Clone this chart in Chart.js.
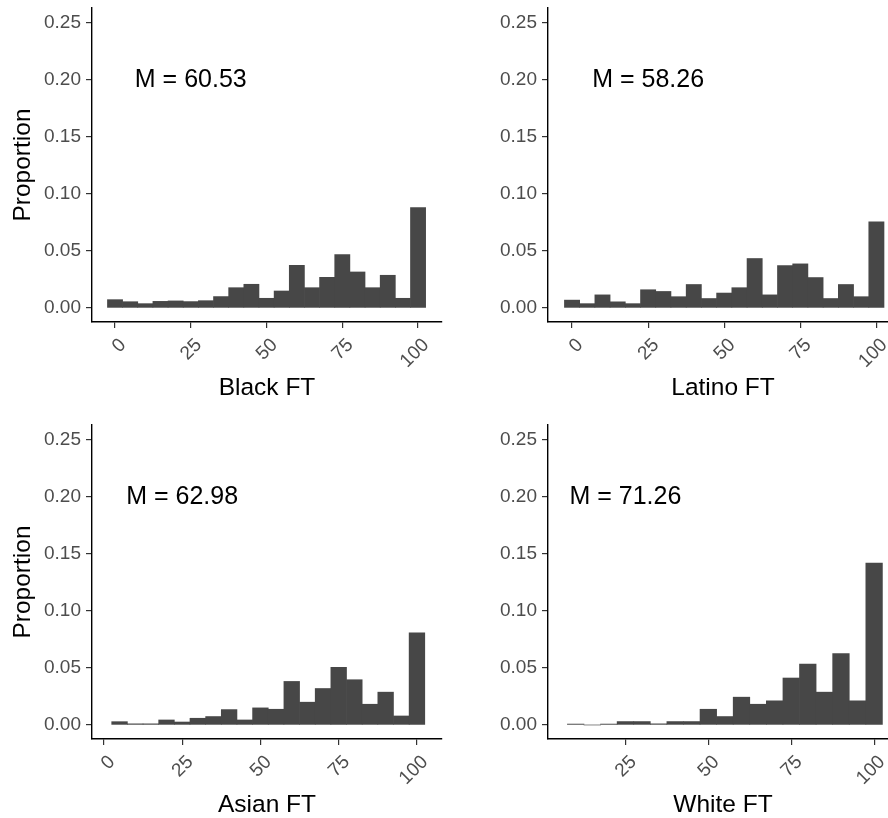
<!DOCTYPE html>
<html>
<head>
<meta charset="utf-8">
<script src="https://cdn.jsdelivr.net/npm/chart.js@4.4.1/dist/chart.umd.min.js"></script>
<style>
  html, body { margin: 0; padding: 0; background: #fff; overflow: hidden; }
  body { width: 888px; height: 818px; position: relative; }
  .panel { position: absolute; width: 444px; height: 410px; }
  .panel canvas { display: block; }
</style>
</head>
<body>
<div class="panel" style="left:0;top:0"><canvas id="blackChart" width="444" height="410"></canvas></div>
<div class="panel" style="left:456px;top:0"><canvas id="latinoChart" width="444" height="410"></canvas></div>
<div class="panel" style="left:0;top:417px"><canvas id="asianChart" width="444" height="410"></canvas></div>
<div class="panel" style="left:456px;top:417px"><canvas id="whiteChart" width="444" height="410"></canvas></div>
<script>
// bin centres and proportions
const binsBlack = [0, 5, 10, 15, 20, 25, 30, 35, 40, 45, 50, 55, 60, 65, 70, 75, 80, 85, 90, 95, 100];
const propBlack = [0.0073, 0.0055, 0.0038, 0.0058, 0.0062, 0.0056, 0.0064, 0.0100, 0.0178, 0.0208, 0.0085, 0.0149, 0.0374, 0.0178, 0.0269, 0.0468, 0.0316, 0.0178, 0.0287, 0.0085, 0.0880];

const binsLatino = [0, 5, 10, 15, 20, 25, 30, 35, 40, 45, 50, 55, 60, 65, 70, 75, 80, 85, 90, 95, 100];
const propLatino = [0.0069, 0.0038, 0.0115, 0.0054, 0.0038, 0.0160, 0.0145, 0.0099, 0.0206, 0.0083, 0.0131, 0.0178, 0.0434, 0.0115, 0.0372, 0.0387, 0.0267, 0.0083, 0.0206, 0.0099, 0.0755];

const binsAsian = [5, 10, 15, 20, 25, 30, 35, 40, 45, 50, 55, 60, 65, 70, 75, 80, 85, 90, 95, 100];
const propAsian = [0.0029, 0.0010, 0.0010, 0.0044, 0.0026, 0.0059, 0.0074, 0.0135, 0.0044, 0.0150, 0.0138, 0.0382, 0.0200, 0.0320, 0.0506, 0.0397, 0.0182, 0.0288, 0.0079, 0.0809];

const binsWhite = [10, 15, 20, 25, 30, 35, 40, 45, 50, 55, 60, 65, 70, 75, 80, 85, 90, 95, 100];
const propWhite = [0.0008, 0, 0.0008, 0.0030, 0.0030, 0.0010, 0.0030, 0.0030, 0.0138, 0.0074, 0.0244, 0.0182, 0.0212, 0.0412, 0.0535, 0.0288, 0.0626, 0.0212, 0.1420];

const meanLabels = ['M = 60.53', 'M = 58.26', 'M = 62.98', 'M = 71.26'];
const xTitles = ['Black FT', 'Latino FT', 'Asian FT', 'White FT'];
const xTickValues = [0, 25, 50, 75, 100];
const yTickValues = [0, 0.05, 0.10, 0.15, 0.20, 0.25];

const FONT = '"Liberation Sans", Arial, Helvetica, sans-serif';
const BAR = '#474747';

// text "M = .." placed at x = 25, y = 0.2 like annotate() in ggplot
const meanLabel = {
  id: 'meanLabel',
  afterDatasetsDraw(chart, args, opts) {
    const { ctx, scales: { x, y } } = chart;
    ctx.save();
    ctx.font = '25px ' + FONT;
    ctx.fillStyle = '#000';
    ctx.textAlign = 'center';
    ctx.textBaseline = 'middle';
    ctx.fillText(opts.text, x.getPixelForValue(25), y.getPixelForValue(0.2));
    ctx.restore();
  }
};

function makePanel(id, bins, values, title, mean, xMin, xMax, showYTitle) {
  new Chart(document.getElementById(id), {
    type: 'bar',
    data: {
      datasets: [{
        data: bins.map((b, i) => ({ x: b, y: values[i] })),
        backgroundColor: BAR,
        borderWidth: 0,
        barPercentage: 1,
        categoryPercentage: 1
      }]
    },
    plugins: [meanLabel],
    options: {
      responsive: false,
      animation: false,
      events: [],
      layout: { padding: { top: 8, right: 2, left: 0, bottom: 0 } },
      plugins: {
        legend: { display: false },
        tooltip: { enabled: false },
        meanLabel: { text: mean }
      },
      scales: {
        x: {
          type: 'linear',
          offset: false,
          min: xMin,
          max: xMax,
          afterBuildTicks: s => {
            s.ticks = xTickValues.filter(v => v >= s.min && v <= s.max).map(v => ({ value: v }));
          },
          afterFit: s => { s.height = 88; s.paddingLeft = 0; s.paddingRight = 0; },
          ticks: {
            color: '#4d4d4d',
            font: { size: 19, family: FONT },
            autoSkip: false,
            minRotation: 45,
            maxRotation: 45,
            labelOffset: 8,
            padding: 6
          },
          grid: { offset: false, drawOnChartArea: false, tickLength: 6, color: '#333', lineWidth: 1.2 },
          border: { display: true, color: '#000', width: 1.4 },
          title: {
            display: true,
            text: title,
            color: '#000',
            font: { size: 24.5, family: FONT },
            padding: { top: 0, bottom: 7 }
          }
        },
        y: {
          min: -0.0123,
          max: 0.2632,
          afterBuildTicks: s => { s.ticks = yTickValues.map(v => ({ value: v })); },
          afterFit: s => { s.width = 92; s.paddingTop = 0; s.paddingBottom = 0; },
          ticks: {
            color: '#4d4d4d',
            font: { size: 19, family: FONT },
            padding: 5,
            callback: v => v.toFixed(2)
          },
          grid: { drawOnChartArea: false, tickLength: 6, color: '#333', lineWidth: 1.2 },
          border: { display: true, color: '#000', width: 1.4 },
          title: {
            display: showYTitle,
            text: 'Proportion',
            color: '#000',
            font: { size: 24.5, family: FONT },
            padding: { top: 9, bottom: 0 }
          }
        }
      }
    }
  });
}

makePanel('blackChart', binsBlack, propBlack, xTitles[0], meanLabels[0], -7.6, 107.9, true);
makePanel('latinoChart', binsLatino, propLatino, xTitles[1], meanLabels[1], -7.9, 107.1, false);
makePanel('asianChart', binsAsian, propAsian, xTitles[2], meanLabels[2], -3.8, 108.0, true);
makePanel('whiteChart', binsWhite, propWhite, xTitles[3], meanLabels[3], 1.65, 107.2, false);
</script>
</body>
</html>
